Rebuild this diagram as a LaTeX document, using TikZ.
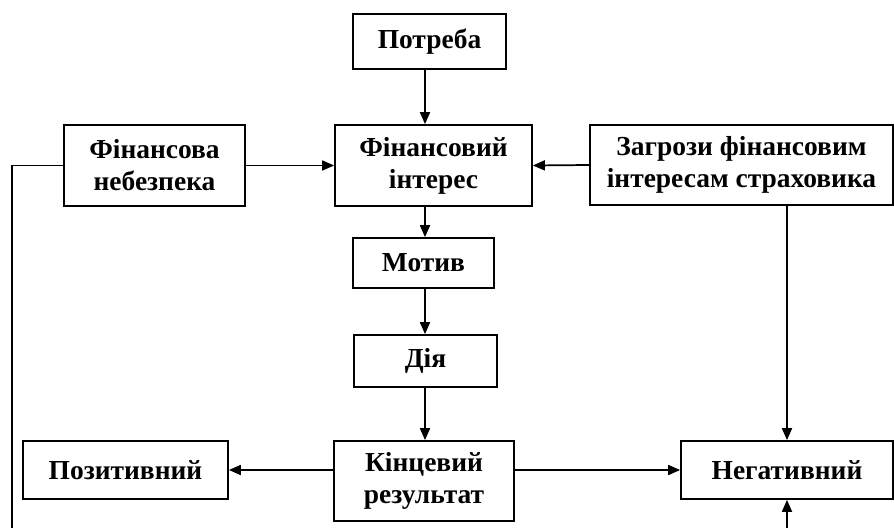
\documentclass[tikz,border=0pt]{standalone}
\usepackage{fontspec}
\setmainfont{Liberation Serif}
\usetikzlibrary{arrows.meta}
\tikzset{
  blok/.style={draw,line width=1.3pt,inner sep=0pt,align=center,
    font=\fontsize{20.6}{24}\selectfont\bfseries},
  >={Triangle[length=9pt,width=7.5pt]}
}
\begin{document}
\begin{tikzpicture}[x=0.75pt,y=-0.75pt,line width=1.3pt]
\useasboundingbox (0,0) rectangle (894,528);
\node[blok,minimum width=114.75pt,minimum height=41.25pt] (potr) at (429.5,41.5) {Потреба};
\node[blok,minimum width=147.75pt,minimum height=60.75pt] (fin) at (433.5,165.5) {Фінансовий\\інтерес};
\node[blok,minimum width=135.75pt,minimum height=60.75pt] (neb) at (154.5,165.5) {Фінансова\\небезпека};
\node[blok,minimum width=227.25pt,minimum height=60pt] (zag) at (741.5,165) {Загрози фінансовим\\інтересам страховика};
\node[blok,minimum width=105.75pt,minimum height=37.5pt] (mot) at (423.5,263) {Мотив};
\node[blok,minimum width=107.25pt,minimum height=39pt] (dia) at (425.5,361) {Дія};
\node[blok,minimum width=153.75pt,minimum height=43.5pt] (poz) at (125.5,470) {Позитивний};
\node[blok,minimum width=135pt,minimum height=60pt] (kin) at (424,481) {Кінцевий\\результат};
\node[blok,minimum width=159pt,minimum height=43.5pt] (neg) at (787,470) {Негативний};
\coordinate (c1) at (12,165.5);
\coordinate (c2) at (12,528);
\coordinate (c3) at (787,528);
\draw[->](potr.south -| 425,0)--(fin.north -| 425,0);
\draw[->](fin.south -| 425,0)--(mot.north -| 425,0);
\draw[->](mot.south -| 425,0)--(dia.north -| 425,0);
\draw[->](dia.south -| 425,0)--(kin.north -| 425,0);
\draw[->](neb.east)--(fin.west);
\draw[->](zag.west)--(fin.east);
\draw[->](kin.west |- poz.east)--(poz.east);
\draw[->](kin.east |- neg.west)--(neg.west);
\draw[->](zag.south -| neg.north)--(neg.north);
\draw(neb.west)--(c1)--(c2);
\draw[->](c3)--(neg.south);
\end{tikzpicture}
\end{document}
